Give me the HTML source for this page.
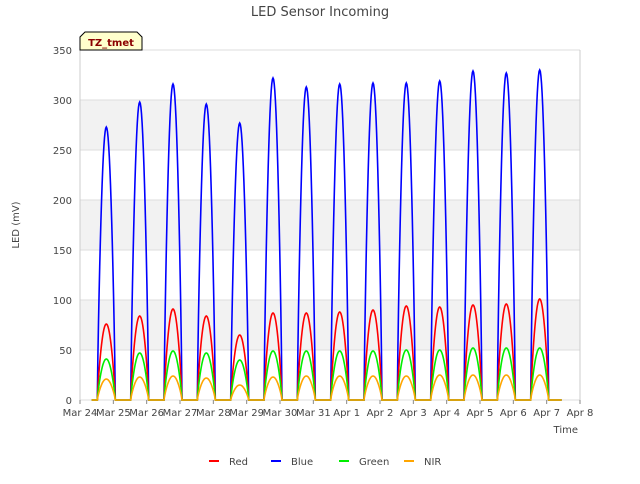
<!DOCTYPE html>
<html><head><meta charset="utf-8"><style>
body{margin:0;background:#fff;font-family:"DejaVu Sans","Liberation Sans",sans-serif;}
svg text{font-family:"DejaVu Sans","Liberation Sans",sans-serif;}
</style></head><body>
<svg id="chart" width="640" height="480">
<rect width="640" height="480" fill="#fff"/>
<g id="bands"></g>
<g id="grid"></g>
<g id="series"></g>
<g id="axes"></g>
<text x="320" y="16" text-anchor="middle" font-size="13" fill="#444">LED Sensor Incoming</text>
<text transform="translate(19,225) rotate(-90)" text-anchor="middle" font-size="10" fill="#444">LED (mV)</text>
<text x="578" y="433" text-anchor="end" font-size="10" fill="#444">Time</text>
<g>
<path d="M80,50 L80,37 L85,32 L137,32 L142,37 L142,50 Z" fill="#ffffcc" stroke="#000" stroke-width="1"/>
<text x="111" y="46" text-anchor="middle" font-size="10" font-weight="bold" fill="#8b0000">TZ_tmet</text>
</g>
<g id="legend"></g>
</svg>
<script>
const days=["Mar 24","Mar 25","Mar 26","Mar 27","Mar 28","Mar 29","Mar 30","Mar 31","Apr 1","Apr 2","Apr 3","Apr 4","Apr 5","Apr 6","Apr 7","Apr 8"];
const yTicks=[0,50,100,150,200,250,300,350];
const bluePeaks=[273,298,316,296,277,322,313,316,317,317,319,329,327,330];
const redPeaks=[76,84,91,84,65,87,87,88,90,94,93,95,96,101];
const greenPeaks=[41,47,49,47,40,49,49,49,49,50,50,52,52,52];
const nirPeaks=[21,23,24,22,15,23,24,24,24,24,25,25,25,25];
const NS="http://www.w3.org/2000/svg";
const X0=80,X1=580,Y0=400,Y1=50;
const xs=d=>X0+(X1-X0)*d/15;
const ys=v=>Y0-(Y0-Y1)*v/350;
function mk(tag,at,parent){const e=document.createElementNS(NS,tag);for(const k in at)e.setAttribute(k,at[k]);parent.appendChild(e);return e;}
const bands=document.getElementById('bands'),grid=document.getElementById('grid'),axes=document.getElementById('axes');
for(let i=0;i<yTicks.length-1;i++){if(i%2==1){const r=mk('rect',{x:X0,y:ys(yTicks[i+1]),width:X1-X0,height:ys(yTicks[i])-ys(yTicks[i+1]),fill:'#f2f2f2'},bands);

}}
yTicks.forEach(v=>{const l=mk('line',{x1:X0,x2:X1,y1:ys(v),y2:ys(v),stroke:'#ddd'},grid);


const t=mk('text',{x:X0-8,y:ys(v)+4,'text-anchor':'end','font-size':10,fill:'#444'},axes);t.textContent=v;

});
mk('line',{x1:X0,x2:X0,y1:Y1,y2:Y0,stroke:'#ccc'},grid);
mk('line',{x1:X1,x2:X1,y1:Y1,y2:Y0,stroke:'#ccc'},grid);
days.forEach((d,i)=>{const x=xs(i);mk('line',{x1:x,x2:x,y1:Y0,y2:Y0+4,stroke:'#888'},axes);
const t=mk('text',{x:x,y:Y0+16,'text-anchor':'middle','font-size':10,fill:'#444'},axes);t.textContent=d;

});
const series=[["Red",redPeaks,"#ff0000"],["Blue",bluePeaks,"#0000ff"],["Green",greenPeaks,"#00ee00"],["NIR",nirPeaks,"#ffa500"]];
const sg=document.getElementById('series');
[[ "Blue",bluePeaks,"#0000ff"],["Red",redPeaks,"#ff0000"],["Green",greenPeaks,"#00ee00"],["NIR",nirPeaks,"#ffa500"]].forEach(([n,pk,c])=>{
 let d='M'+xs(0.35)+','+ys(0);
 pk.forEach((p,i)=>{const s=i+0.52,e=i+1.06;d+=' L'+xs(s).toFixed(1)+','+ys(0);
  for(let k=1;k<=30;k++){const u=k/30;const v=p*Math.pow(Math.sin(Math.PI*u),0.8);d+=' L'+xs(s+(e-s)*u).toFixed(1)+','+ys(v).toFixed(1);}});
 d+=' L'+xs(14.45)+','+ys(0);
 const pa=mk('path',{d:d,fill:'none',stroke:c,'stroke-width':1.6},sg);
 
 });
const lg=document.getElementById('legend');
const lx=[209,271,339,404];
series.forEach(([n,pk,c],i)=>{const x=lx[i];mk('line',{x1:x,x2:x+10,y1:461,y2:461,stroke:c,'stroke-width':2},lg);
const t=mk('text',{x:x+20,y:465,'font-size':10,fill:'#444'},lg);t.textContent=n;

});
</script>
</body></html>
